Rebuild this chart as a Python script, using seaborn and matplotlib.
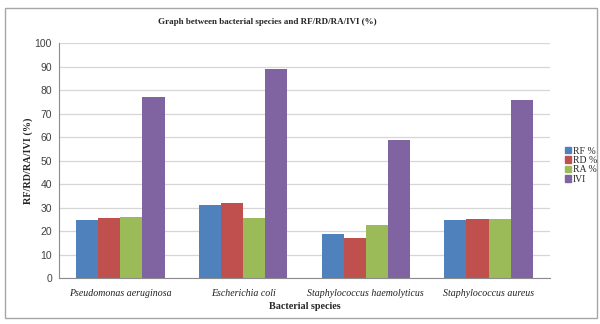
import matplotlib
matplotlib.use('Agg')
from matplotlib import pyplot as plt
from matplotlib.patches import Rectangle
import pandas as pd
import seaborn as sns

species = ['Pseudomonas aeruginosa', 'Escherichia coli',
           'Staphylococcus haemolyticus', 'Staphylococcus aureus']
measures = ['RF %', 'RD %', 'RA %', 'IVI']
rf = [24.8, 31.2, 18.7, 24.8]
rd = [25.7, 31.8, 17.0, 25.0]
ra = [26.0, 25.5, 22.7, 25.1]
ivi = [77.3, 89.0, 58.8, 75.7]
yticks = list(range(0, 101, 10))

colors = ['#4F81BD', '#C0504D', '#9BBB59', '#8064A2']

# long format for seaborn
rows = []
for m, vals in zip(measures, [rf, rd, ra, ivi]):
    for s, v in zip(species, vals):
        rows.append({'species': s, 'measure': m, 'value': v})
data = pd.DataFrame(rows)

sns.set_style('white')
plt.rcParams['font.family'] = ['Liberation Serif', 'DejaVu Serif']

fig = plt.figure(figsize=(6, 3.24), dpi=100)
ax = fig.add_axes([0.0983, 0.142, 0.8183, 0.7244])

sns.barplot(data=data, x='species', y='value', hue='measure', order=species,
            hue_order=measures, palette=colors, width=0.72, saturation=1,
            edgecolor='none', linewidth=0, ax=ax, legend=False)

ax.set_ylim(0, 100)
ax.set_xlim(-0.5, 3.5)
ax.set_yticks(yticks)
ax.set_yticklabels([str(t) for t in yticks], family='Liberation Sans',
                   fontsize=7.5, color='#404040')
ax.yaxis.grid(True, color='#d6d6d6', linewidth=0.9)
ax.set_axisbelow(True)
for side in ['top', 'right']:
    ax.spines[side].set_visible(False)
for side in ['left', 'bottom']:
    ax.spines[side].set_color('#8c8c8c')
    ax.spines[side].set_linewidth(0.8)
ax.tick_params(axis='y', length=3, color='#8c8c8c', width=0.8, pad=2)

ax.set_xticks(range(4))
ax.set_xticklabels(species, style='italic', fontsize=7.1, color='#202020')
ax.set_xticks([-0.5, 0.5, 1.5, 2.5, 3.5], minor=True)
ax.tick_params(axis='x', which='major', length=0, pad=8)
ax.tick_params(axis='x', which='minor', length=3, color='#8c8c8c', width=0.8)

ax.set_xlabel('Bacterial species', fontsize=7.3, fontweight='bold', labelpad=3)
ax.set_ylabel('RF/RD/RA/IVI (%)', fontsize=7.3, fontweight='bold', labelpad=1)

fig.text(0.445, 0.932, 'Graph between bacterial species and RF/RD/RA/IVI (%)',
         ha='center', va='center', fontsize=6.5, fontweight='bold')

handles = [Rectangle((0, 0), 1, 1, color=c) for c in colors]
fig.legend(handles, measures, loc='center left', bbox_to_anchor=(0.935, 0.49),
           frameon=False, fontsize=7, handlelength=0.6, handleheight=0.6,
           handletextpad=0.2, labelspacing=0.05, borderaxespad=0)

# chart frame
fig.patches.append(Rectangle((0.009, 0.02), 0.986, 0.955, transform=fig.transFigure,
                             fill=False, edgecolor='#a6a6a6', linewidth=1))

plt.savefig('out.png', dpi=100)
